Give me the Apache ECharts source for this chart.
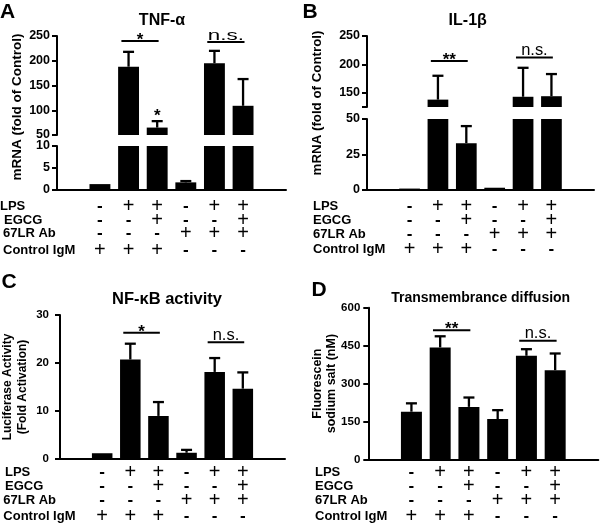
<!DOCTYPE html>
<html><head><meta charset="utf-8">
<script src="https://cdn.jsdelivr.net/npm/echarts@6/dist/echarts.min.js"></script>
<style>html,body{margin:0;padding:0;background:#fff}#c{width:600px;height:525px}</style>
</head><body><div id="c"></div>
<script>
// ---------- data ----------
const groups = ['pad0', 'G1', 'G2', 'G3', 'G4', 'G5', 'G6', 'pad7'];
const rowNames = ['LPS', 'EGCG', '67LR Ab', 'Control IgM'];
const lps  = [0, 1, 1, 0, 1, 1];
const egcg = [0, 0, 1, 0, 0, 1];
const ab67 = [0, 0, 0, 1, 1, 1];
const igm  = [1, 1, 1, 0, 0, 0];

const tnfMean = [1.2, 188, 65, 1.6, 195, 109];
const tnfErr  = [0, 30, 13, 0.3, 25, 54];
const il1Mean = [1.0, 138, 33, 1.6, 143, 144];
const il1Err  = [0, 42, 12, 0, 51, 39];
const nfkbMean = [1.1, 20.7, 8.9, 1.2, 18.1, 14.6];
const nfkbErr  = [0, 3.3, 2.9, 0.6, 2.9, 3.4];
const diffMean = [189, 443, 208, 160, 410, 353];
const diffErr  = [33, 44, 37, 35, 26, 66];

const tnfTicksUpper = [50, 100, 150, 200, 250];
const tnfTicksLower = [0, 5, 10];
const il1TicksUpper = [125, 150, 200, 250];
const il1LabelsUpper = [150, 200, 250];
const il1TicksLower = [0, 25, 50];
const nfkbTicks = [0, 10, 20, 30];
const diffTicks = [0, 150, 300, 450, 600];

// significance: [fromGroup, toGroup, y, text]
const tnfSig  = [[2, 3, 240, '*'], [5, 6, 238, 'n.s.'], [3, 3, 86, '*']];
const il1Sig  = [[2, 3, 206, '**'], [5, 6, 212, 'n.s.']];
const nfkbSig = [[2, 3, 26.3, '*'], [5, 6, 24.3, 'n.s.']];
const diffSig = [[2, 3, 511, '**'], [5, 6, 469, 'n.s.']];

// ---------- layout / style ----------
const FONT = '"Liberation Sans", Arial, Helvetica, sans-serif';
const rows = [lps, egcg, ab67, igm];

const panels = [
  { letter: 'A', title: 'TNF-\u03b1', ylabel: 'mRNA (fold of Control)', mean: tnfMean, err: tnfErr, sig: tnfSig, sigSeg: 0,
    left: 57, width: 229,
    segs: [{ top: 36, height: 99, min: 50, max: 250, ticks: tnfTicksUpper, labels: tnfTicksUpper },
           { top: 146, height: 43.3, min: 0, max: 10, ticks: tnfTicksLower, labels: tnfTicksLower }],
    tickFont: 12.5, tickMargin: 7, rowOff: [16.7, 30.7, 44, 60.7], rowX: [0, 4, 3, 3],
    letterPos: [0, 12.5], titlePos: [162, 20.5], titleSize: 16, ylabelPos: [17.5, 107], ylabelSize: 13.5, ylabelLH: 15,
    nsSize: 14, nsScale: 1.6 },
  { letter: 'B', title: 'IL-1\u03b2', ylabel: 'mRNA (fold of Control)', mean: il1Mean, err: il1Err, sig: il1Sig, sigSeg: 0,
    left: 367, width: 227,
    segs: [{ top: 36, height: 71, min: 125, max: 250, ticks: il1TicksUpper, labels: il1LabelsUpper },
           { top: 119, height: 71, min: 0, max: 50, ticks: il1TicksLower, labels: il1TicksLower }],
    tickFont: 12.5, tickMargin: 7, rowOff: [16, 30, 44, 59.3], rowX: [313, 313, 313, 313],
    letterPos: [302.5, 12.5], titlePos: [467.7, 21], titleSize: 16, ylabelPos: [317.5, 103], ylabelSize: 13.3, ylabelLH: 15,
    nsSize: 16, nsScale: 1.03 },
  { letter: 'C', title: 'NF-\u03baB activity', ylabel: 'Luciferase Activity\n(Fold Activation)', mean: nfkbMean, err: nfkbErr, sig: nfkbSig, sigSeg: 0,
    left: 60, width: 225,
    segs: [{ top: 315, height: 143.5, min: 0, max: 30, ticks: nfkbTicks, labels: nfkbTicks }],
    tickFont: 11.5, tickMargin: 11, rowOff: [13.8, 27.5, 42.2, 57.5], rowX: [5, 5, 3.3, 3.3],
    letterPos: [1.5, 282.5], titlePos: [167, 299.5], titleSize: 16.5, ylabelPos: [15.5, 387], ylabelSize: 12, ylabelLH: 15,
    nsSize: 16, nsScale: 1.03 },
  { letter: 'D', title: 'Transmembrance diffusion', ylabel: 'Fluorescein\nsodium salt (nM)', mean: diffMean, err: diffErr, sig: diffSig, sigSeg: 0,
    left: 368.3, width: 230,
    segs: [{ top: 307.7, height: 151.8, min: 0, max: 600, ticks: diffTicks, labels: diffTicks }],
    tickFont: 11.5, tickMargin: 8, rowOff: [12.8, 26.5, 41.2, 56.5], rowX: [315, 315, 315, 315],
    letterPos: [311.5, 290.5], titlePos: [480.7, 298.5], titleSize: 14, ylabelPos: [325, 383.6], ylabelSize: 12.5, ylabelLH: 14,
    nsSize: 16, nsScale: 1.03 }
];

function gtext(t, x, y, o) {
  const el = { type: 'text', x: x, y: y, silent: true, z: 10,
    style: { text: t, fill: '#000', fontFamily: FONT, fontSize: o.size, fontWeight: o.weight || 'bold',
      align: o.align || 'left', textAlign: o.align || 'left', verticalAlign: 'middle', textVerticalAlign: 'middle',
      lineHeight: o.lh || undefined } };
  if (o.rot) el.rotation = Math.PI / 2;
  return el;
}

function errRender(params, api) {
  const x = api.value(0), m = api.value(1), e = api.value(2);
  const p0 = api.coord([x, m]), p1 = api.coord([x, m + e]);
  const hw = 5.5;
  return { type: 'group', children: [
    { type: 'line', shape: { x1: p0[0], y1: p0[1], x2: p1[0], y2: p1[1] }, style: { stroke: '#000', lineWidth: 2.3 } },
    { type: 'line', shape: { x1: p1[0] - hw, y1: p1[1], x2: p1[0] + hw, y2: p1[1] }, style: { stroke: '#000', lineWidth: 2.3 } }
  ] };
}

function sigRender(p) {
  return function (params, api) {
    const it = p.sig[params.dataIndex];
    const slot = api.size([1, 0])[0];
    const a = api.coord([it[0], it[2]]), b = api.coord([it[1], it[2]]);
    const children = [];
    let cx = a[0];
    if (it[0] !== it[1]) {
      const x1 = a[0] - 0.25 * slot, x2 = b[0] + 0.05 * slot;
      cx = (x1 + x2) / 2;
      children.push({ type: 'line', shape: { x1: x1, y1: a[1], x2: x2, y2: a[1] }, style: { stroke: '#000', lineWidth: 2 } });
    }
    if (it[3] === 'n.s.') {
      children.push({ type: 'text', x: cx, y: a[1] + 1, scaleX: p.nsScale,
        style: { text: it[3], fill: '#000', fontFamily: FONT, fontSize: p.nsSize, fontWeight: 'normal',
          align: 'center', verticalAlign: 'bottom' } });
    } else {
      children.push({ type: 'text', x: cx, y: a[1] - 0.5,
        style: { text: it[3], fill: '#000', fontFamily: FONT, fontSize: 17, fontWeight: 'bold',
          align: 'center', verticalAlign: 'middle' } });
    }
    return { type: 'group', children: children };
  };
}

const option = { animation: false, backgroundColor: '#fff', grid: [], xAxis: [], yAxis: [], series: [], graphic: [] };

panels.forEach(p => {
  p.segs.forEach((s, k) => {
    const gi = option.grid.length;
    option.grid.push({ left: p.left, top: s.top, width: p.width, height: s.height, containLabel: false, outerBoundsMode: 'none' });
    const last = k === p.segs.length - 1;
    const xi = option.xAxis.length;
    option.xAxis.push({ type: 'category', gridIndex: gi, data: groups, show: last, position: 'bottom',
      axisLine: { show: true, onZero: false, lineStyle: { color: '#000', width: 2 } },
      axisTick: { show: false }, axisLabel: { show: false }, splitLine: { show: false } });
    const yi = option.yAxis.length;
    option.yAxis.push({ type: 'value', gridIndex: gi, min: s.min, max: s.max,
      axisLine: { show: true, onZero: false, lineStyle: { color: '#000', width: 2 } },
      axisTick: { show: true, length: 5, lineStyle: { color: '#000', width: 2 }, customValues: s.ticks },
      axisLabel: { customValues: s.labels, color: '#000', fontWeight: 'bold', fontSize: p.tickFont, fontFamily: FONT, margin: p.tickMargin },
      splitLine: { show: false } });
    option.series.push({ type: 'bar', xAxisIndex: xi, yAxisIndex: yi, data: p.mean.map((v, i) => [i + 1, v]),
      barWidth: '73%', itemStyle: { color: '#000' }, silent: true, clip: true });
    const eb = [];
    p.mean.forEach((v, i) => { if (p.err[i] > 0 && v >= s.min && v < s.max) eb.push([i + 1, v, p.err[i]]); });
    option.series.push({ type: 'custom', xAxisIndex: xi, yAxisIndex: yi, data: eb, z: 3, silent: true,
      renderItem: errRender, encode: { x: 0, y: 1 } });
    if (k === p.sigSeg) {
      option.series.push({ type: 'custom', xAxisIndex: xi, yAxisIndex: yi, data: p.sig.map(q => [q[0], q[2]]), z: 4, silent: true,
        renderItem: sigRender(p), encode: { x: 0, y: 1 } });
    }
    if (last) {
      const bottom = s.top + s.height;
      rows.forEach((cond, r) => {
        option.xAxis.push({ type: 'category', gridIndex: gi, data: groups, position: 'bottom', offset: p.rowOff[r],
          axisLine: { show: false, onZero: false }, axisTick: { show: false }, splitLine: { show: false },
          axisLabel: { show: true, interval: 0, margin: 0, verticalAlign: 'middle', color: '#000',
            formatter: (val, idx) => (idx < 1 || idx > 6) ? '' : (cond[idx - 1] ? '{p|+}' : '{m|-}'),
            rich: { p: { fontSize: 20, fontFamily: FONT, color: '#000' },
                    m: { fontSize: 17, fontWeight: 'bold', fontFamily: FONT, color: '#000' } } } });
        option.graphic.push(gtext(rowNames[r], p.rowX[r], bottom + p.rowOff[r], { size: 13 }));
      });
    }
  });
  option.graphic.push(gtext(p.letter, p.letterPos[0], p.letterPos[1], { size: 21 }));
  option.graphic.push(gtext(p.title, p.titlePos[0], p.titlePos[1], { size: p.titleSize, align: 'center' }));
  option.graphic.push(gtext(p.ylabel, p.ylabelPos[0], p.ylabelPos[1], { size: p.ylabelSize, align: 'center', rot: true, lh: p.ylabelLH }));
});

const chart = echarts.init(document.getElementById('c'), null, { renderer: 'canvas' });
chart.setOption(option);
</script>
</body></html>
